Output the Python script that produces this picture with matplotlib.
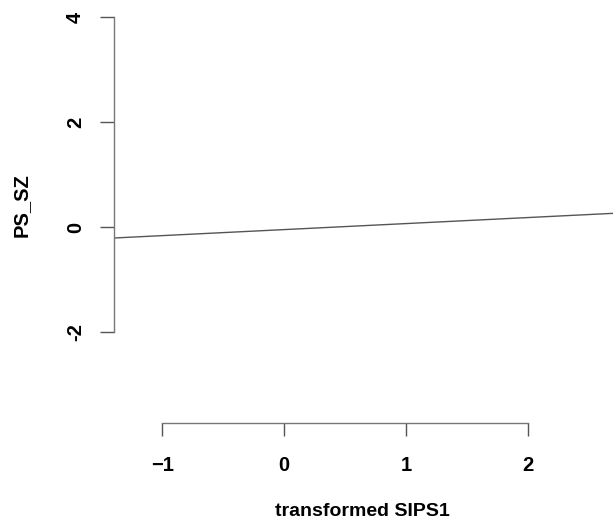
import matplotlib
matplotlib.use('Agg')
import matplotlib.pyplot as plt

# regression line endpoints
x_line = [-1.4, 2.7]
y_line = [-0.21, 0.26]

x_ticks = [-1, 0, 1, 2]
x_labels = ['\u22121', '0', '1', '2']
y_ticks = [-2, 0, 2, 4]
y_labels = ['-2', '0', '2', '4']

plt.rcParams['font.family'] = ['Liberation Sans', 'DejaVu Sans']
plt.rcParams['font.weight'] = 'bold'

W, H = 613, 527
fig = plt.figure(figsize=(W / 100, H / 100), dpi=100)
ax = fig.add_axes([114 / W, 1 - 396 / H, 499 / W, 382 / H])

ax.plot(x_line, y_line, color='#555555', lw=1.0, clip_on=True)

ax.set_xlim(-1.397, 2.70)
ax.set_ylim(-3.219, 4.057)

for s in ['top', 'right']:
    ax.spines[s].set_visible(False)
for s in ['left', 'bottom']:
    ax.spines[s].set_color('#777777')
    ax.spines[s].set_linewidth(1.0)
ax.spines['bottom'].set_position(('outward', 19.4))
ax.spines['left'].set_bounds(-2, 4)
ax.spines['bottom'].set_bounds(-1, 2)

ax.set_xticks(x_ticks)
ax.set_xticklabels(x_labels)
ax.set_yticks(y_ticks)
ax.set_yticklabels(y_labels, rotation=90, va='center')
ax.tick_params(axis='x', length=9.5, width=1.0, color='#555555', pad=14, labelsize=14.5)
ax.tick_params(axis='y', length=10, width=1.0, color='#555555', pad=11, labelsize=14.5)

fig.text(362 / W, 1 - 512 / H, 'transformed SIPS1', ha='center', va='center', fontsize=14)
fig.text(21 / W, 1 - 205 / H, 'PS_SZ', ha='center', va='center', rotation=90, fontsize=14.5)

fig.savefig('out.png', dpi=100)
